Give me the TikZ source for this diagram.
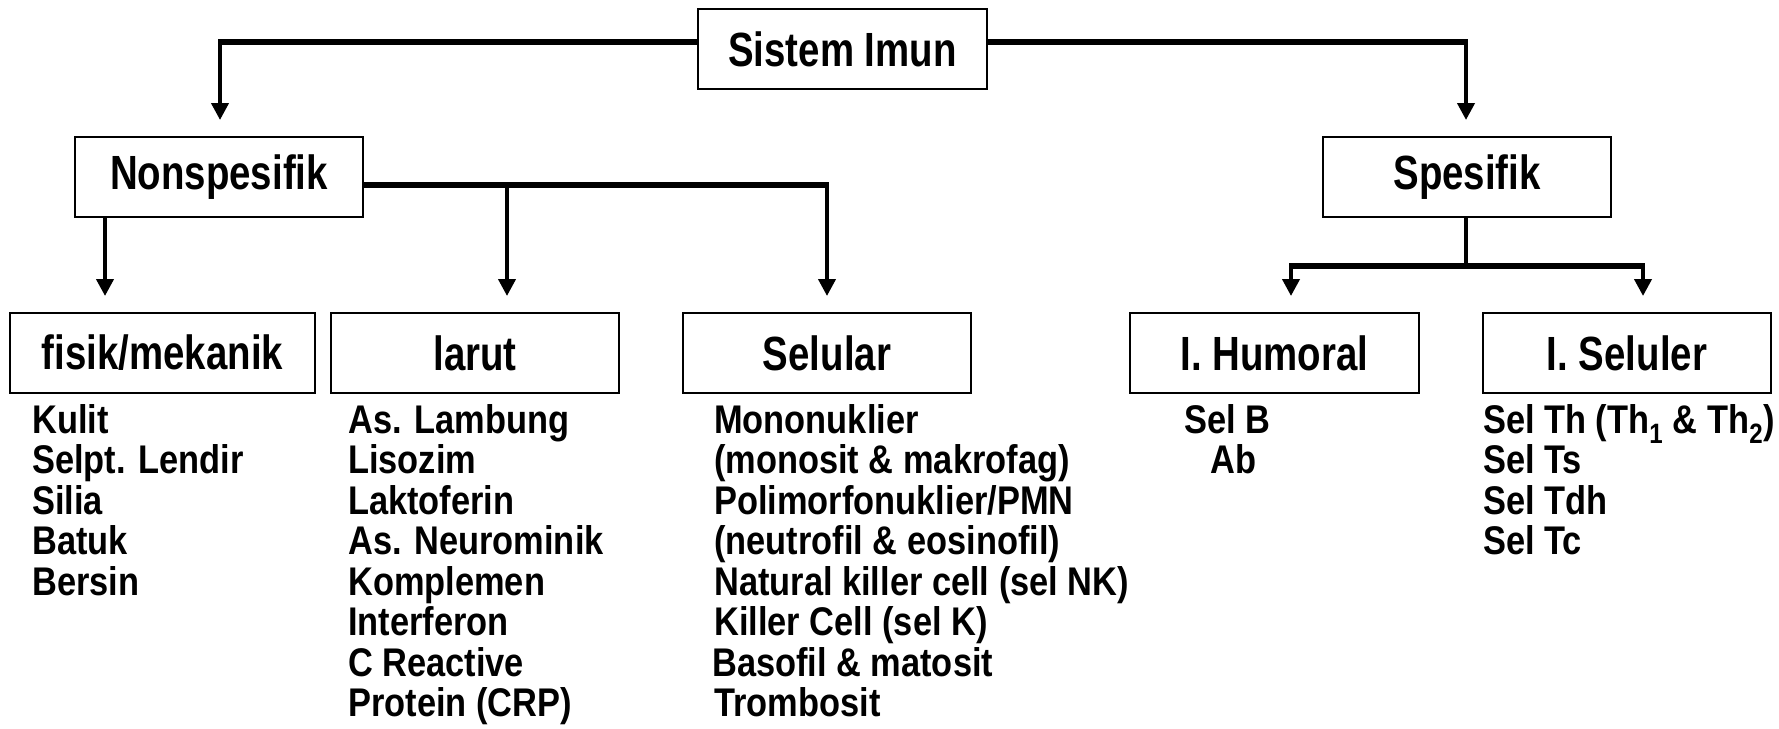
\documentclass[tikz,border=0pt]{standalone}
\usepackage{fontspec}
\setmainfont{Liberation Sans}
\newfontfamily\hdfont{Liberation Sans}[FakeStretch=0.80]
\newfontfamily\bdfont{Liberation Sans}[FakeStretch=0.86]
\usetikzlibrary{arrows.meta}
\begin{document}
\begin{tikzpicture}[x=1pt,y=-1pt,
 box/.style={draw,line width=2pt,minimum height=80pt,inner sep=0pt,font={\hdfont\bfseries\fontsize{48}{52}\selectfont}},
 item/.style={anchor=base west,inner sep=0pt,font={\bdfont\bfseries\fontsize{40}{42}\selectfont}},
 hl/.style={line width=6pt},
 vl/.style={line width=4pt},
 arr/.style={vl,-{Triangle[width=17pt,length=17pt]},shorten >=16pt},
]
\useasboundingbox (0,0) rectangle (1779,728);
% boxes
\node[box,minimum width=289pt] (sis) at (842.5,49) {Sistem Imun};
\node[box,minimum width=288pt] (non) at (219,177) {Nonspesifik};
\node[box,minimum width=288pt] (spe) at (1467,177) {Spesifik};
\node[box,minimum width=305pt] (fis) at (162.5,353) {fisik/mekanik};
\node[box,minimum width=288pt] (lar) at (475,353) {larut};
\node[box,minimum width=288pt] (sel) at (827,353) {Selular};
\node[box,minimum width=289pt] (hum) at (1274.5,353) {I. Humoral};
\node[box,minimum width=288pt] (slr) at (1627,353) {I. Seluler};
% joints
\coordinate (jL) at (218,42);
\coordinate (jLt) at (220,39);
\coordinate (jR) at (1468,42);
\coordinate (jRt) at (1466,39);
\coordinate (nR) at (829,185);
\coordinate (nA) at (507,182);
\coordinate (nB) at (827,182);
\coordinate (sJ) at (1466,266);
\coordinate (sL) at (1289,266);
\coordinate (sR) at (1645,266);
\coordinate (sLt) at (1291,263);
\coordinate (sRt) at (1643,263);
% top level
\draw[hl] ([yshift=7pt]sis.west) -- (jL);
\draw[arr] (jLt) -- (jLt |- non.north);
\draw[hl] ([yshift=7pt]sis.east) -- (jR);
\draw[arr] (jRt) -- (jRt |- spe.north);
% nonspesifik
\draw[hl] ([yshift=-8pt]non.east) -- (nR);
\draw[arr] ([xshift=31pt]non.south west) -- ([xshift=96pt]fis.north west);
\draw[arr] (nA) -- (nA |- lar.north);
\draw[arr] (nB) -- (nB |- sel.north);
% spesifik
\draw[vl] (spe.south -| sJ) -- (sJ);
\draw[hl] (sL) -- (sR);
\draw[arr] (sLt) -- (sLt |- hum.north);
\draw[arr] (sRt) -- (sRt |- slr.north);
% lists
\foreach \t [count=\i] in {Kulit,Selpt. Lendir,Silia,Batuk,Bersin}
  \node[item] (fl\i) at (32,{433+40.5*(\i-1)}) {\t};
\foreach \t [count=\i] in {As. Lambung,Lisozim,Laktoferin,As. Neurominik,Komplemen,Interferon,C Reactive,Protein (CRP)}
  \node[item] (ll\i) at (348,{433+40.5*(\i-1)}) {\t};
\foreach \t/\xx [count=\i] in {Mononuklier/714,(monosit \& makrofag)/714,Polimorfonuklier{/}PMN/714,(neutrofil \& eosinofil)/714,Natural killer cell (sel NK)/714,Killer Cell (sel K)/714,Basofil \& matosit/712,Trombosit/714}
  \node[item] (cl\i) at (\xx,{433+40.5*(\i-1)}) {\t};
\node[item] (hl1) at (1184,433) {Sel B};
\node[item] (hl2) at (1210,473.5) {Ab};
\foreach \t [count=\i] in {{Sel Th (Th\textsubscript{1} \& Th\textsubscript{2})},Sel Ts,Sel Tdh,Sel Tc}
  \node[item] (sl\i) at (1483,{433+40.5*(\i-1)}) {\t};
\end{tikzpicture}
\end{document}
